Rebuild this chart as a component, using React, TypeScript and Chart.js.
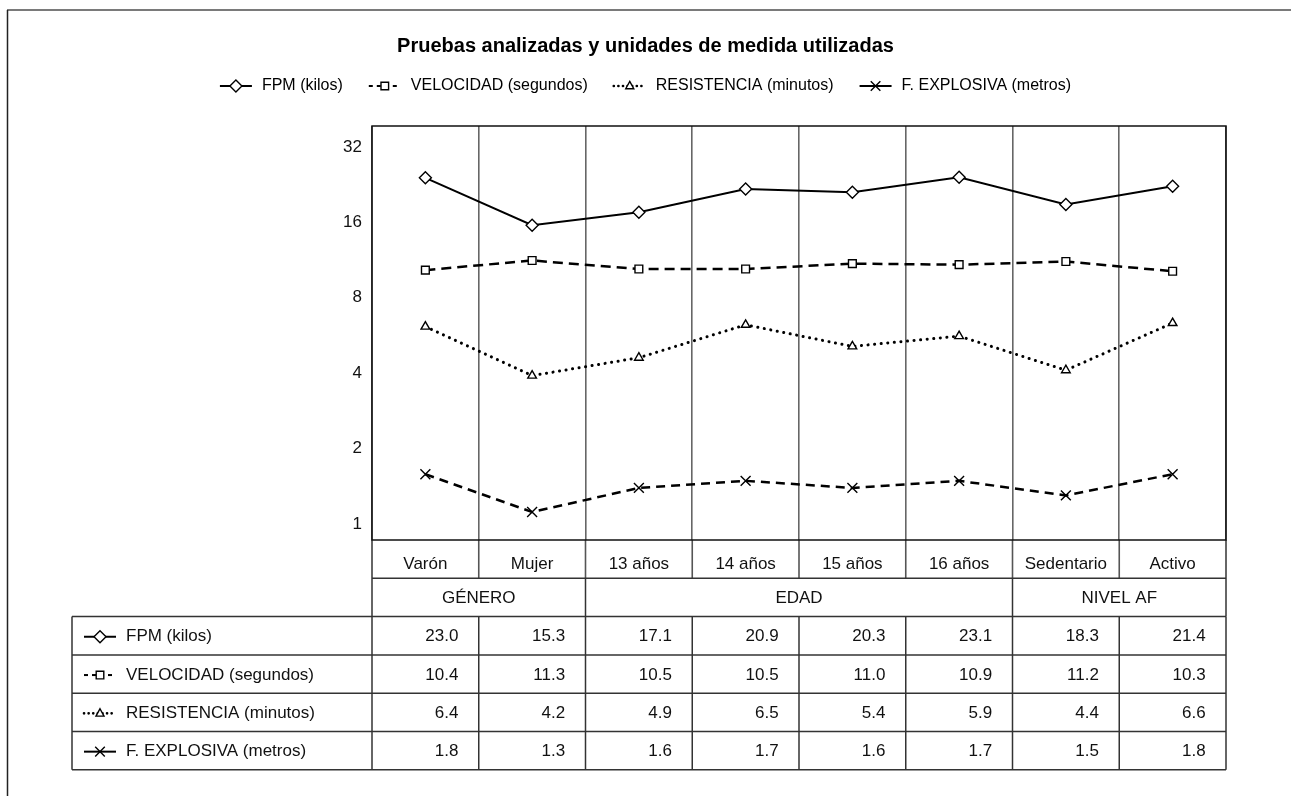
import React, { useEffect, useRef } from 'react';
import { Chart, registerables } from 'chart.js';

Chart.register(...registerables);

// ---------- data ----------
const CATEGORIES = ['Varón', 'Mujer', '13 años', '14 años', '15 años', '16 años', 'Sedentario', 'Activo'];
const GROUPS = ['GÉNERO', 'EDAD', 'NIVEL AF'];
const GROUP_SPANS = [2, 4, 2];
const SERIES_NAMES = ['FPM (kilos)', 'VELOCIDAD (segundos)', 'RESISTENCIA (minutos)', 'F. EXPLOSIVA (metros)'];
const FPM = [23.0, 15.3, 17.1, 20.9, 20.3, 23.1, 18.3, 21.4];
const VELOCIDAD = [10.4, 11.3, 10.5, 10.5, 11.0, 10.9, 11.2, 10.3];
const RESISTENCIA = [6.4, 4.2, 4.9, 6.5, 5.4, 5.9, 4.4, 6.6];
const EXPLOSIVA = [1.8, 1.3, 1.6, 1.7, 1.6, 1.7, 1.5, 1.8];
const Y_TICKS = [1, 2, 4, 8, 16, 32];
const TITLE = 'Pruebas analizadas y unidades de medida utilizadas';

// ---------- layout / style ----------
const W = 1291;
const H = 796;
const FONT = '"Liberation Sans", Arial, Helvetica, sans-serif';
const FS = 17;
const TITLE_FS = 20;
const ROW_H = 38.3;
const TABLE_LEFT = 72;

const SERIES = [FPM, VELOCIDAD, RESISTENCIA, EXPLOSIVA];
const STYLES = [
  { dash: [], width: 2, point: 'rectRot', radius: 6, cap: 'butt' },
  { dash: [10, 6], width: 2.5, point: 'rect', radius: 5.5, cap: 'butt' },
  { dash: [0.1, 6.5], width: 3, point: 'triangle', radius: 5, cap: 'round' },
  { dash: [9, 6], width: 2.5, point: 'crossRot', radius: 7, cap: 'butt' },
];

function drawMarker(ctx: CanvasRenderingContext2D, kind: string, x: number, y: number) {
  ctx.save();
  ctx.setLineDash([]);
  ctx.lineWidth = 1.4;
  ctx.strokeStyle = '#000';
  ctx.fillStyle = '#fff';
  ctx.beginPath();
  if (kind === 'rectRot') {
    const r = 6;
    ctx.moveTo(x, y - r); ctx.lineTo(x + r, y); ctx.lineTo(x, y + r); ctx.lineTo(x - r, y); ctx.closePath();
    ctx.fill(); ctx.stroke();
  } else if (kind === 'rect') {
    const s = 3.8;
    ctx.rect(x - s, y - s, 2 * s, 2 * s);
    ctx.fill(); ctx.stroke();
  } else if (kind === 'triangle') {
    const r = 4.6;
    ctx.moveTo(x, y - r); ctx.lineTo(x + r * 0.87, y + r * 0.6); ctx.lineTo(x - r * 0.87, y + r * 0.6); ctx.closePath();
    ctx.fill(); ctx.stroke();
  } else {
    const r = 4.8;
    ctx.moveTo(x - r, y - r); ctx.lineTo(x + r, y + r); ctx.moveTo(x + r, y - r); ctx.lineTo(x - r, y + r);
    ctx.stroke();
  }
  ctx.restore();
}

function drawSymbol(ctx: CanvasRenderingContext2D, idx: number, x0: number, y: number, w: number) {
  const st = STYLES[idx];
  ctx.save();
  ctx.strokeStyle = '#000';
  ctx.lineWidth = idx === 2 ? 2.6 : 2;
  ctx.lineCap = st.cap as CanvasLineCap;
  if (idx === 1) ctx.setLineDash([4, 4]);
  else if (idx === 2) ctx.setLineDash([0.1, 4.5]);
  else ctx.setLineDash([]);
  ctx.beginPath();
  ctx.moveTo(x0, y);
  ctx.lineTo(x0 + w, y);
  ctx.stroke();
  ctx.restore();
  drawMarker(ctx, st.point, x0 + w / 2, y);
}

const tablePlugin = {
  id: 'tablePlugin',
  afterDraw(chart: any) {
    const ctx: CanvasRenderingContext2D = chart.ctx;
    const ca = chart.chartArea;
    const xs = chart.scales.x;
    const n = CATEGORIES.length;
    const centers = CATEGORIES.map((_, i) => xs.getPixelForValue(i));
    const bounds: number[] = [ca.left];
    for (let i = 1; i < n; i++) bounds.push((centers[i - 1] + centers[i]) / 2);
    bounds.push(ca.right);

    ctx.save();
    // outer frame (partially visible)
    ctx.strokeStyle = '#7a7a7a';
    ctx.lineWidth = 2;
    ctx.beginPath(); ctx.moveTo(7, 10); ctx.lineTo(W, 10); ctx.stroke();
    ctx.strokeStyle = '#222';
    ctx.lineWidth = 1.5;
    ctx.beginPath(); ctx.moveTo(7.5, 10); ctx.lineTo(7.5, H); ctx.stroke();

    // title
    ctx.fillStyle = '#000';
    ctx.font = `bold ${TITLE_FS}px ${FONT}`;
    ctx.textAlign = 'center';
    ctx.textBaseline = 'middle';
    ctx.fillText(TITLE, W / 2, 46);

    // legend
    ctx.font = `${FS - 1}px ${FONT}`;
    const symW = 32, gap = 10, itemGap = 26;
    const widths = SERIES_NAMES.map((s) => symW + gap + ctx.measureText(s).width);
    const total = widths.reduce((a, b) => a + b, 0) + itemGap * (SERIES_NAMES.length - 1);
    let lx = W / 2 - total / 2;
    ctx.textAlign = 'left';
    SERIES_NAMES.forEach((s, i) => {
      drawSymbol(ctx, i, lx, 86, symW);
      ctx.fillStyle = '#000';
      ctx.fillText(s, lx + symW + gap, 86);
      lx += widths[i] + itemGap;
    });

    const catTop = ca.bottom;
    const grpTop = catTop + ROW_H;
    const tblTop = grpTop + ROW_H;
    const tblBottom = tblTop + ROW_H * SERIES.length;

    // vertical lines through category row
    ctx.strokeStyle = '#555';
    ctx.lineWidth = 1.6;
    for (let i = 1; i < n; i++) {
      ctx.beginPath(); ctx.moveTo(bounds[i], catTop); ctx.lineTo(bounds[i], grpTop); ctx.stroke();
    }

    ctx.strokeStyle = '#333';
    ctx.lineWidth = 1.5;
    ctx.beginPath(); ctx.moveTo(ca.left, grpTop); ctx.lineTo(ca.right, grpTop); ctx.stroke();
    ctx.beginPath(); ctx.moveTo(ca.left, catTop); ctx.lineTo(ca.left, tblTop); ctx.stroke();
    ctx.beginPath(); ctx.moveTo(ca.right, catTop); ctx.lineTo(ca.right, tblTop); ctx.stroke();
    let gi = 0;
    ctx.font = `${FS}px ${FONT}`;
    ctx.textAlign = 'center';
    ctx.fillStyle = '#111';
    GROUPS.forEach((g, k) => {
      const a = bounds[gi];
      const b = bounds[gi + GROUP_SPANS[k]];
      if (k > 0) { ctx.beginPath(); ctx.moveTo(a, grpTop); ctx.lineTo(a, tblTop); ctx.stroke(); }
      ctx.fillText(g, (a + b) / 2, grpTop + ROW_H / 2 + 1);
      gi += GROUP_SPANS[k];
    });

    // data table
    for (let r = 0; r <= SERIES.length; r++) {
      const y = tblTop + r * ROW_H;
      ctx.beginPath(); ctx.moveTo(TABLE_LEFT, y); ctx.lineTo(ca.right, y); ctx.stroke();
    }
    const vx = [TABLE_LEFT, ...bounds];
    vx.forEach((x) => { ctx.beginPath(); ctx.moveTo(x, tblTop); ctx.lineTo(x, tblBottom); ctx.stroke(); });

    SERIES.forEach((vals, r) => {
      const cy = tblTop + r * ROW_H + ROW_H / 2 + 1;
      drawSymbol(ctx, r, 84, cy, 32);
      ctx.fillStyle = '#111';
      ctx.font = `${FS}px ${FONT}`;
      ctx.textAlign = 'left';
      ctx.fillText(SERIES_NAMES[r], 126, cy);
      ctx.textAlign = 'right';
      vals.forEach((v, i) => ctx.fillText(v.toFixed(1), centers[i] + 33, cy));
    });

    // plot frame
    ctx.strokeStyle = '#111';
    ctx.lineWidth = 1.5;
    ctx.strokeRect(ca.left, ca.top, ca.right - ca.left, ca.bottom - ca.top);
    ctx.restore();
  },
};

export default function App() {
  const ref = useRef<HTMLCanvasElement>(null);
  useEffect(() => {
    const canvas = ref.current!;
    const chart = new Chart(canvas, {
      type: 'line',
      data: {
        labels: CATEGORIES,
        datasets: SERIES.map((vals, i) => ({
          label: SERIES_NAMES[i],
          data: vals,
          yAxisID: 'yd',
          borderColor: '#000',
          borderWidth: STYLES[i].width,
          borderDash: STYLES[i].dash,
          borderCapStyle: STYLES[i].cap as any,
          pointStyle: STYLES[i].point as any,
          pointRadius: STYLES[i].radius,
          pointBorderWidth: 1.4,
          pointBackgroundColor: '#fff',
          pointBorderColor: '#000',
          tension: 0,
          fill: false,
        })),
      },
      options: {
        animation: false,
        responsive: false,
        maintainAspectRatio: false,
        layout: { padding: { top: 126, left: 0, right: 65, bottom: 218 } },
        plugins: { legend: { display: false }, title: { display: false }, tooltip: { enabled: false } },
        scales: {
          x: {
            type: 'category',
            offset: true,
            grid: { display: true, offset: true, color: '#666', lineWidth: 1.6, drawTicks: false },
            border: { display: false },
            ticks: { font: { family: FONT, size: FS }, color: '#111', padding: 14, maxRotation: 0, autoSkip: false },
            afterFit: (s: any) => { s.height = 38; },
          },
          y: {
            type: 'logarithmic',
            position: 'left',
            min: 0.863,
            max: 38.8,
            grid: { display: false, drawTicks: false },
            border: { display: false },
            ticks: { font: { family: FONT, size: FS }, color: '#111', padding: 10, callback: (v: any) => String(v) },
            afterBuildTicks: (s: any) => { s.ticks = Y_TICKS.map((v) => ({ value: v })); },
            afterFit: (s: any) => { s.width = 372; },
          },
          yd: {
            type: 'logarithmic',
            display: false,
            min: 1.0225,
            max: 35.9,
          },
        },
      },
      plugins: [tablePlugin],
    });
    return () => chart.destroy();
  }, []);
  return (
    <div style={{ position: 'absolute', left: 0, top: 0, width: W, height: H, background: '#fff' }}>
      <canvas ref={ref} width={W} height={H} style={{ width: W, height: H, display: 'block' }} />
    </div>
  );
}
